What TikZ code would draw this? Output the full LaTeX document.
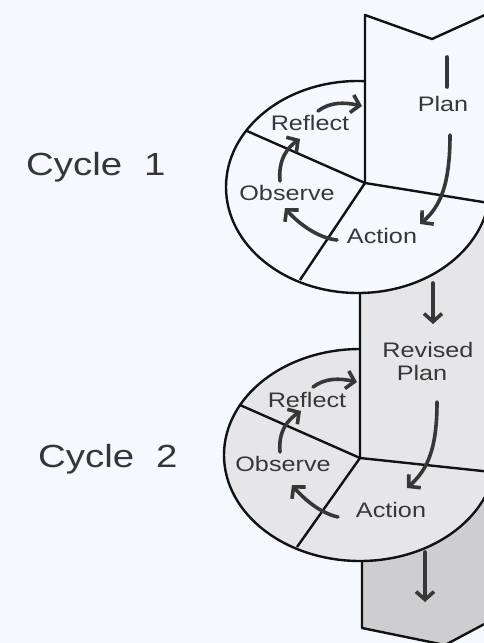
\documentclass[tikz,border=0pt]{standalone}
\usepackage{fontspec}
\setmainfont{Liberation Sans}[FakeStretch=1.2]
\usetikzlibrary{arrows.meta}

\definecolor{paper}{RGB}{245,248,252}
\definecolor{ink}{RGB}{18,18,18}
\definecolor{pen}{RGB}{55,55,55}
\definecolor{revfill}{RGB}{230,230,232}
\definecolor{nextfill}{RGB}{206,206,208}

\providecommand*{\rimA}{}
\providecommand*{\rimB}{}
\renewcommand*{\rimA}{132}
\renewcommand*{\rimB}{106}

\begin{document}
\begin{tikzpicture}[x=1pt,y=-1pt,
    rim/.style={line width=2.4pt,draw=ink,line join=round},
    turn/.style={line width=3.6pt,draw=pen,line cap=round,
      -{Straight Barb[length=8pt,width=18pt]}},
    lbl/.style={text=pen,font=\fontsize{21}{25}\selectfont,inner sep=0pt,anchor=base},
    cyc/.style={text=ink!85,font=\fontsize{32}{36}\selectfont,inner sep=0pt,anchor=base west}]
  \useasboundingbox (0,0) rectangle (483,643);
  \fill [paper] (-5,-5) rectangle (495,650);
  \begin{scope}
    \clip (-5,-5) rectangle (495,650);
    % next plan, behind cycle 2
    \fill [nextfill] (362,480) -- (362,628) -- (445,645) -- (520,605) -- (520,480) -- cycle;
    \draw [rim] (362,540) -- (362,628) -- (445,645) -- (520,605);
    % cycle 2
    \filldraw [rim,fill=revfill] (360,455) ellipse [x radius=136, y radius=\rimB];
    \fill [revfill] (360,190) -- (360,458) -- (520,475) -- (520,190) -- cycle;
    \draw [rim] (360,190) -- (360,458) -- (520,475);
    \draw [rim] (240,405) -- (360,458) -- (297,547);
    % cycle 1
    \filldraw [rim,fill=paper] (358,187) ellipse [x radius=\rimA, y radius=\rimB];
    \fill [paper] (365,15) -- (432,39) -- (520,-1) -- (520,208) -- (365,183) -- cycle;
    \draw [rim] (520,-1) -- (432,39) -- (365,15) -- (365,183) -- (520,208);
    \draw [rim] (247,131) -- (365,183) -- (300,280);
  \end{scope}

  \node [cyc] (cycle1) at (26,175) {Cycle\hspace{22pt}1};
  \node [cyc] (cycle2) at (38,467) {Cycle\hspace{22pt}2};

  \node [lbl] (plan1) at (443,111) {Plan};
  \node [lbl] (refl1) at (310,130) {Reflect};
  \node [lbl] (obs1) at (287,200) {Observe};
  \node [lbl] (act1) at (382,243) {Action};

  \node [lbl] (rev2) at (428,357) {Revised};
  \node [lbl] (plan2) at (422,380) {Plan};
  \node [lbl] (refl2) at (307,407) {Reflect};
  \node [lbl] (obs2) at (283,471) {Observe};
  \node [lbl] (act2) at (391,517) {Action};
  \coordinate (next) at (425,602);

  \draw [turn,-] ([shift={(4,-54)}]plan1.base) -- ([shift={(4,-24)}]plan1.base);
  \draw [turn] ([shift={(7,24)}]plan1.base) .. controls +(0,50) and +(20,-17) .. ([shift={(38,-19)}]act1.base);
  \draw [turn] ([shift={(-45,-3)}]act1.base) .. controls +(-20,-2) and +(12,14) .. ([shift={(-2,8)}]obs1.base);
  \draw [turn] ([shift={(-7,-19)}]obs1.base) .. controls +(-2,-22) and +(-12,8) .. ([shift={(-10,9)}]refl1.base);
  \draw [turn] ([shift={(8,-19)}]refl1.base) .. controls +(12,-9) and +(-18,-4) .. ([shift={(-81,-5)}]plan1.base);
  \draw [turn] ([shift={(51,40)}]act1.base) -- ([shift={(5,-33)}]rev2.base);

  \draw [turn] ([shift={(15,22)}]plan2.base) .. controls +(0,48) and +(20,-18) .. ([shift={(16,-29)}]act2.base);
  \draw [turn] ([shift={(-53,0)}]act2.base) .. controls +(-18,-4) and +(12,14) .. ([shift={(9,14)}]obs2.base);
  \draw [turn] ([shift={(-3,-19)}]obs2.base) .. controls +(-2,-22) and +(-12,8) .. ([shift={(-6,4)}]refl2.base);
  \draw [turn] ([shift={(6,-20)}]refl2.base) .. controls +(12,-9) and +(-18,-4) .. ([shift={(-71,25)}]rev2.base);
  \draw [turn] ([shift={(34,35)}]act2.base) -- (next);
\end{tikzpicture}
\end{document}
